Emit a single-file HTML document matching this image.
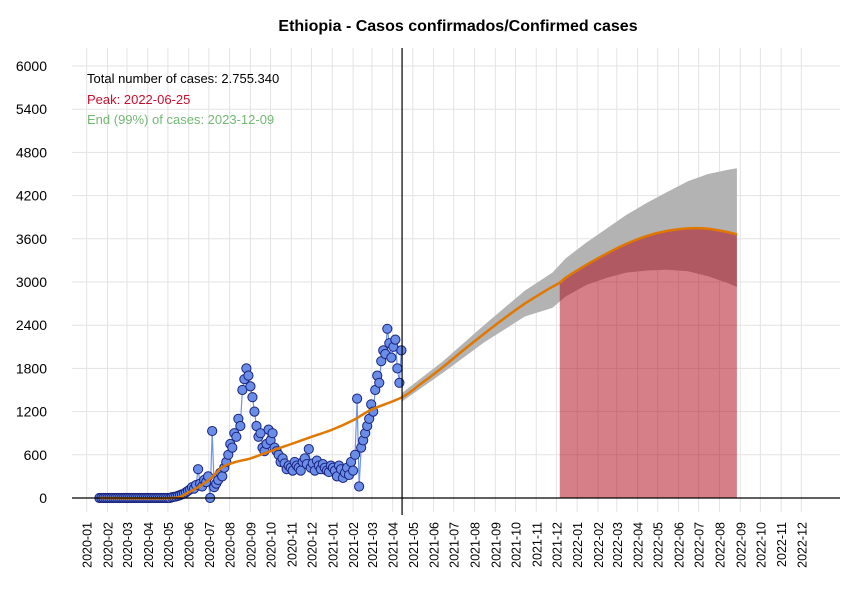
<!DOCTYPE html>
<html><head><meta charset="utf-8"><style>
body{margin:0;background:#fff;}
svg{display:block;font-family:"Liberation Sans",sans-serif;}
</style></head><body>
<svg id="chart" width="850" height="600" viewBox="0 0 850 600">
<rect width="850" height="600" fill="#fff"/>
<text x="458" y="31" text-anchor="middle" font-size="16" font-weight="bold">Ethiopia - Casos confirmados/Confirmed cases</text>
<g id="grid"></g>
<g id="yaxis"></g>
<g id="xaxis"></g>
<g id="bands"></g>
<g id="obs"></g>
<g id="trend"></g>
<line x1="72" y1="498" x2="840" y2="498" stroke="#000" stroke-width="1.2"/>
<line id="cutline" y1="48" y2="515" stroke="#000" stroke-width="1.2"/>
<text x="87" y="83" font-size="13" fill="#000">Total number of cases: 2.755.340</text>
<text x="87" y="104" font-size="13" fill="#c8102e">Peak: 2022-06-25</text>
<text x="87" y="124" font-size="13" fill="#74b874">End (99%) of cases: 2023-12-09</text>
</svg>
<script>
const yTicks=[0,600,1200,1800,2400,3000,3600,4200,4800,5400,6000];
const monthLabels=["2020-01","2020-02","2020-03","2020-04","2020-05","2020-06","2020-07","2020-08","2020-09","2020-10","2020-11","2020-12","2021-01","2021-02","2021-03","2021-04","2021-05","2021-06","2021-07","2021-08","2021-09","2021-10","2021-11","2021-12","2022-01","2022-02","2022-03","2022-04","2022-05","2022-06","2022-07","2022-08","2022-09","2022-10","2022-11","2022-12"];
const obsStart="2020-01-20";
const obsStepDays=3;
const obsValues=[0,0,0,0,0,0,0,0,0,0,0,0,0,0,0,0,0,0,0,0,0,0,0,0,0,0,0,0,0,0,0,0,0,0,0,0,
10,15,20,30,40,50,60,80,
100,120,150,130,180,400,200,160,250,220,
300,0,930,150,200,250,350,300,420,500,
600,750,700,900,850,1100,1000,1500,1650,1800,
1700,1550,1400,1200,1000,850,900,700,650,750,
950,800,900,700,650,600,500,550,480,400,
450,420,380,500,450,420,380,500,550,470,
680,420,480,380,520,450,400,470,420,380,
360,450,420,380,300,450,400,280,350,420,
320,500,380,600,1380,160,700,800,900,1000,
1100,1300,1200,1500,1700,1600,1900,2050,2000,2350,
2150,1950,2100,2200,1800,1600,2050];
const trendDates=["2020-01-20","2020-05-05","2020-06-01","2020-07-01","2020-07-20","2020-08-10","2020-09-01","2020-10-01","2020-11-01","2020-12-01","2021-01-01","2021-02-01","2021-03-01","2021-04-15","2021-05-15","2021-06-15","2021-07-15","2021-08-15","2021-09-15","2021-10-15","2021-11-15","2021-12-06","2021-12-15","2022-01-15","2022-02-15","2022-03-15","2022-04-15","2022-05-15","2022-06-15","2022-07-15","2022-08-15","2022-08-27"];
const trendValues=[0,0,80,250,420,500,550,650,750,850,950,1080,1230,1400,1600,1820,2050,2280,2500,2700,2880,2990,3060,3240,3400,3530,3640,3710,3745,3740,3690,3660];
const bandDates=["2021-04-15","2021-06-15","2021-08-15","2021-10-15","2021-11-25","2021-12-15","2022-01-15","2022-02-15","2022-03-15","2022-04-15","2022-05-15","2022-06-15","2022-07-15","2022-08-15","2022-08-27"];
const bandUpper=[1460,1900,2400,2880,3130,3330,3550,3750,3930,4100,4250,4400,4500,4560,4580];
const bandLower=[1340,1740,2160,2520,2640,2800,2960,3060,3130,3160,3170,3150,3080,2980,2930];
const cutDate="2021-04-15";
const redStart="2021-12-06";

const NS="http://www.w3.org/2000/svg";
const X0=86.7, PXDAY=0.671, Y0=498, PXCASE=0.072;
const base=Date.UTC(2020,0,1);
function dayOf(s){const p=s.split("-").map(Number);return (Date.UTC(p[0],p[1]-1,p[2]||1)-base)/864e5;}
function xs(d){return X0+d*PXDAY;}
function ys(v){return Y0-v*PXCASE;}
function mk(tag,attrs,parent){const e=document.createElementNS(NS,tag);for(const k in attrs)e.setAttribute(k,attrs[k]);parent.appendChild(e);return e;}
const grid=document.getElementById("grid"),yax=document.getElementById("yaxis"),xax=document.getElementById("xaxis");
yTicks.forEach(v=>{
 const l=mk("line",{x1:72,x2:840,y1:ys(v),y2:ys(v),stroke:"#e3e3e3","stroke-width":1},grid);
 
 
 const t=mk("text",{x:47,y:ys(v)+5,"text-anchor":"end","font-size":14,fill:"#000"},yax);
 t.textContent=v;
 
 
});
monthLabels.forEach(m=>{
 const x=xs(dayOf(m));
 const l=mk("line",{x1:x,x2:x,y1:48,y2:512,stroke:"#e3e3e3","stroke-width":1},grid);
 
 
 const t=mk("text",{x:0,y:0,"text-anchor":"end","font-size":12.5,fill:"#000",transform:`translate(${x+5},522) rotate(-90)`},xax);
 t.textContent=m;
 
 
});
document.getElementById("cutline").setAttribute("x1",xs(dayOf(cutDate)));
document.getElementById("cutline").setAttribute("x2",xs(dayOf(cutDate)));
const bands=document.getElementById("bands");
let pts=bandDates.map((d,i)=>xs(dayOf(d))+","+ys(bandUpper[i]));
for(let i=bandDates.length-1;i>=0;i--)pts.push(xs(dayOf(bandDates[i]))+","+ys(bandLower[i]));
const gp=mk("polygon",{points:pts.join(" "),fill:"#b3b3b3"},bands);


const rs=dayOf(redStart);
let rp=[xs(rs)+","+ys(0)];
function trendAt(d){for(let i=1;i<trendDates.length;i++){const a=dayOf(trendDates[i-1]),b=dayOf(trendDates[i]);if(d<=b){return trendValues[i-1]+(trendValues[i]-trendValues[i-1])*(d-a)/(b-a);}}return trendValues[trendValues.length-1];}
rp.push(xs(rs)+","+ys(trendAt(rs)));
trendDates.forEach((d,i)=>{if(dayOf(d)>rs)rp.push(xs(dayOf(d))+","+ys(trendValues[i]));});
rp.push(xs(dayOf(trendDates[trendDates.length-1]))+","+ys(0));
const rpo=mk("polygon",{points:rp.join(" "),fill:"rgba(176,0,20,0.5)"},bands);


const obs=document.getElementById("obs");
const sd=dayOf(obsStart);
const op=obsValues.map((v,i)=>xs(sd+i*obsStepDays)+","+ys(v)).join(" ");
const ol=mk("polyline",{points:op,fill:"none",stroke:"#6f93ea","stroke-width":1.2},obs);


obsValues.forEach((v,i)=>{
 const c=mk("circle",{cx:xs(sd+i*obsStepDays),cy:ys(v),r:4.6,fill:"#6a8ee8",stroke:"#1a237e","stroke-width":1},obs);
 
 
});
const tp=trendDates.map((d,i)=>[xs(dayOf(d)),ys(trendValues[i])]);
let path="M"+tp[0][0]+","+tp[0][1];
for(let i=0;i<tp.length-1;i++){const p0=tp[Math.max(0,i-1)],p1=tp[i],p2=tp[i+1],p3=tp[Math.min(tp.length-1,i+2)];
 path+=` C${p1[0]+(p2[0]-p0[0])/6},${p1[1]+(p2[1]-p0[1])/6} ${p2[0]-(p3[0]-p1[0])/6},${p2[1]-(p3[1]-p1[1])/6} ${p2[0]},${p2[1]}`;}
const tl=mk("path",{d:path,fill:"none",stroke:"#e07800","stroke-width":2.5},document.getElementById("trend"));


</script>
</body></html>
